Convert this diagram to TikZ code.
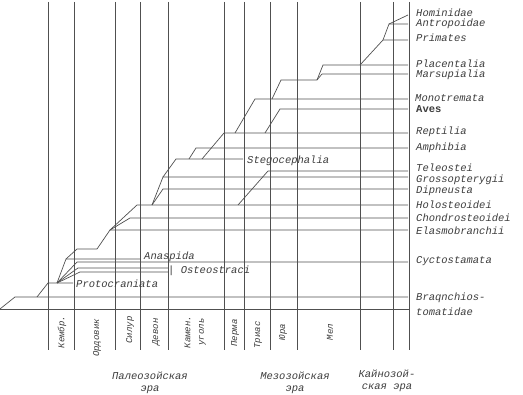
\documentclass[tikz,border=0pt]{standalone}
\usepackage{fontspec}
\setmonofont{Liberation Mono}
\usetikzlibrary{positioning}
\definecolor{TreeGray}{RGB}{80,80,80}
\definecolor{TextGray}{RGB}{60,60,60}

\begin{document}
\begin{tikzpicture}[x=1pt, y=-1pt,
    tline/.style={draw=TreeGray, line width=0.7pt},
    taxon/.style={anchor=west, inner sep=0pt, text=TextGray,
                  font=\fontsize{10.5}{10.5}\ttfamily\itshape},
    period/.style={rotate=90, inner sep=0pt, align=center, text=TextGray,
                   font=\fontsize{9}{13.5}\selectfont\ttfamily\itshape},
    era/.style={inner sep=0pt, align=center, text=TextGray,
                font=\fontsize{10.5}{12}\selectfont\ttfamily\itshape}
  ]
  \useasboundingbox (0,0) rectangle (523,395);

  % period boundaries
  \foreach \x in {48,74,115,140,168,224,244,270,297,360,393,409}{
    \draw[tline] (\x,2) -- (\x,350);
  }
  \draw[tline] (0,309) -- (409,309);

  % branches: start / bend / end
  \foreach \ax/\ay/\bx/\by/\ex in {
      0/309/15/297/408, 37/297/48/283/73,
      57/283/66/259/140, 57/283/77/262/408,
      57/283/78/268/168, 57/283/80/272/168,
      66/259/77/249/97, 97/249/110/230/408,
      110/230/130/218/408, 110/230/137/205/408,
      152/205/163/189/408, 152/205/163/177/408,
      238/205/268/171/408, 163/177/176/159/243,
      189/159/196/148/408, 202/159/224/133/408,
      265/133/280/109/408, 235/133/255/99/408,
      272/99/281/80/317, 317/80/322/74/408,
      317/80/323/65/408, 360/65/383/40/408,
      383/40/389/24/408}{
    \draw[tline] (\ax,\ay) -- (\bx,\by) -- (\ex,\by);
  }
  \draw[tline] (389,24) -- (408,15);

  % taxa
  \node[taxon] (hom)  at (416,13)  {Hominidae};
  \node[taxon] (ant)  at (416,24)  {Antropoidae};
  \node[taxon] (pri)  at (416,38)  {Primates};
  \node[taxon] (pla)  at (416,64)  {Placentalia};
  \node[taxon] (mar)  at (416,75)  {Marsupialia};
  \node[taxon] (mon)  at (415,98)  {Monotremata};
  \node[taxon, font=\fontsize{10.5}{10.5}\ttfamily\bfseries] (ave) at (416,109) {Aves};
  \node[taxon] (rep)  at (416,132) {Reptilia};
  \node[taxon] (amp)  at (416,148) {Amphibia};
  \node[taxon] (tel)  at (416,168) {Teleostei};
  \node[taxon] (gro)  at (416,179.5) {Grossopterygii};
  \node[taxon] (dip)  at (416,191) {Dipneusta};
  \node[taxon] (hol)  at (416,205) {Holosteoidei};
  \node[taxon] (cho)  at (416,218) {Chondrosteoidei};
  \node[taxon] (ela)  at (416,231) {Elasmobranchii};
  \node[taxon] (cyc)  at (416,261) {Cyctostamata};
  \node[taxon] (bra)  at (416,298) {Braqnchios-};
  \node[taxon] (tom)  at (416,312) {tomatidae};
  \node[taxon] (ste)  at (247,161) {Stegocephalia};
  \node[taxon] (ana)  at (144,257) {Anaspida};
  \node[taxon] (ost)  at (168,271) {| Osteostraci};
  \node[taxon] (pro)  at (76,284)  {Protocraniata};

  % periods
  \foreach \x/\y/\t in {62/332/Кембр., 97/338/Ордовик, 130/330/Силур,
      156/332/Девон, 235/333/Перма, 258/335/Триас, 283/332/Юра, 330/332/Мел}{
    \node[period] at (\x,\y) {\t};
  }
  \node[period] (coal) at (195,332) {Камен.\\уголь};

  % eras
  \node[era] (pal) at (150,383) {Палеозойская\\эра};
  \node[era] (mes) at (295,383) {Мезозойская\\эра};
  \node[era] (cen) at (387,381) {Кайнозой-\\ская эра};
\end{tikzpicture}
\end{document}
